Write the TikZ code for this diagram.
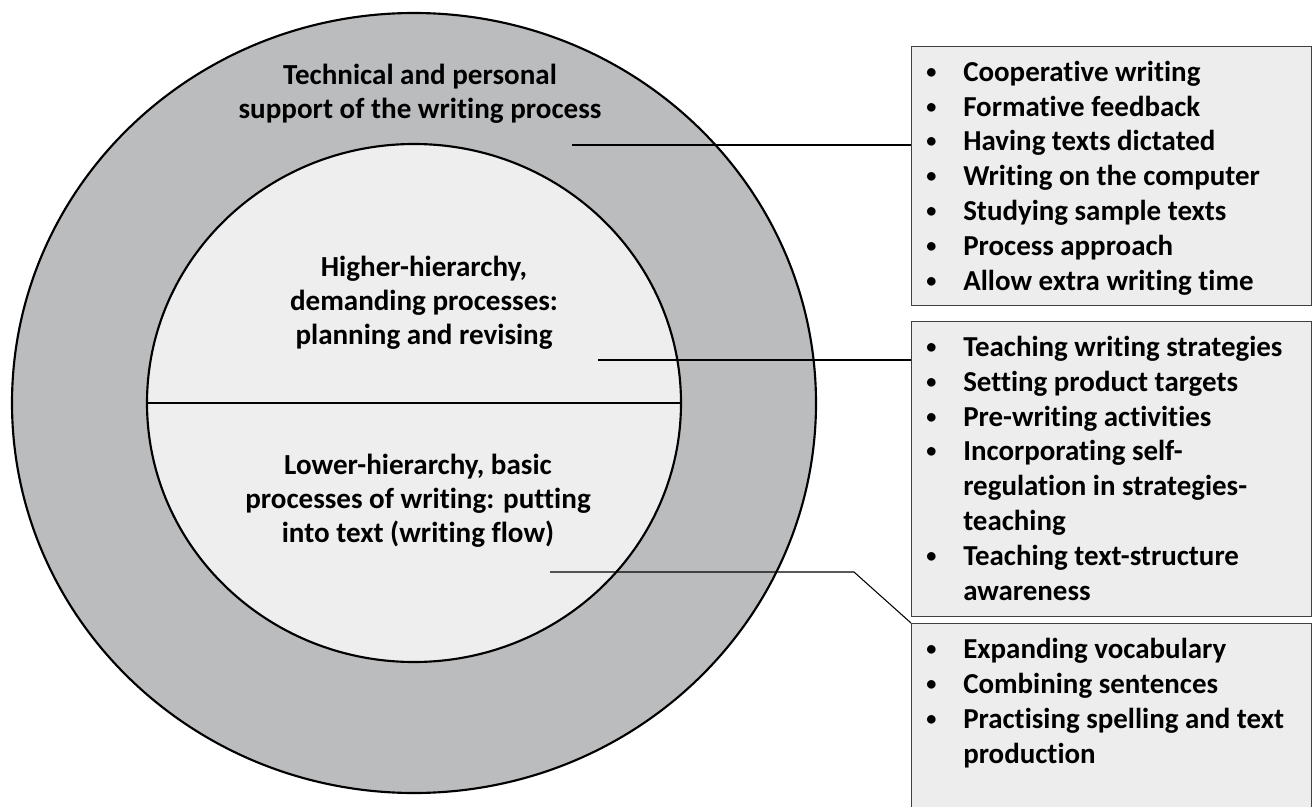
\documentclass[tikz,border=0pt]{standalone}
\usepackage{fontspec}
\setmainfont{Carlito}[Ligatures=NoCommon]
\usetikzlibrary{positioning}

\definecolor{ringgray}{RGB}{187,188,190}
\definecolor{coregray}{RGB}{238,238,238}
\definecolor{boxgray}{RGB}{237,237,237}
\definecolor{boxline}{RGB}{64,64,64}

% bullet and continuation indent for the lists
\newcommand{\bul}{\makebox[29.25pt][l]{\hspace{1.5pt}\raisebox{0.1em}{\scalebox{0.7}{\textbullet}}}}
\newcommand{\cont}{\hspace*{29.25pt}}

\begin{document}
\begin{tikzpicture}[
  x=0.75pt, y=-0.75pt,
  ring/.style={draw=black, line width=1.6pt},
  lbl/.style={font=\fontsize{21.8}{25.5}\selectfont\bfseries, align=center, inner sep=0pt},
  listbox/.style={draw=boxline, line width=1.1pt, fill=boxgray, anchor=north west,
    minimum width=300pt, inner sep=0pt},
  items/.style={font=\fontsize{21.7}{26.1}\selectfont\bfseries, align=left,
    anchor=base west, inner sep=0pt},
  link/.style={draw=black, line width=0.8pt}
]
  \useasboundingbox (0,0) rectangle (1312,806);

  % Rings
  \draw[ring, fill=ringgray] (414,403) ellipse [x radius=402, y radius=390];
  \draw[ring, fill=coregray] (414,403) ellipse [x radius=267, y radius=259];
  \draw[ring] (147,403) -- (681,403);

  % Ring labels
  \node[lbl] (support) at (420,93.5) {Technical and personal\\support of the writing process};
  \node[lbl] (higher) at (424,302.5) {Higher-hierarchy,\\demanding processes:\\planning and revising};
  \node[lbl] (lower) at (418,500.5) {Lower-hierarchy, basic\\processes of writing: putting\\into text (writing flow)};

  % Boxes
  \node[listbox, minimum height=194.25pt] (box1) at (911,46) {};
  \node[listbox, minimum height=221.25pt] (box2) at (911,321) {};
  \node[listbox, minimum height=142.5pt] (box3) at (911,623) {};

  % Lists (placed by the baseline of their last line)
  \node[items] (list1) at (924,290) {%
    \bul Cooperative writing\\
    \bul Formative feedback\\
    \bul Having texts dictated\\
    \bul Writing on the computer\\
    \bul Studying sample texts\\
    \bul Process approach\\
    \bul Allow extra writing time};
  \node[items] (list2) at (924,600) {%
    \bul Teaching writing strategies\\
    \bul Setting product targets\\
    \bul Pre-writing activities\\
    \bul Incorporating self-\\
    \cont regulation in strategies-\\
    \cont teaching\\
    \bul Teaching text-structure\\
    \cont awareness};
  \node[items] (list3) at (924,763) {%
    \bul Expanding vocabulary\\
    \bul Combining sentences\\
    \bul Practising spelling and text\\
    \cont production};

  % Connectors
  \coordinate (p1) at (572,145);
  \coordinate (p2) at (598,360);
  \coordinate (p3) at (550,572);
  \coordinate (k3) at (854,572);
  \draw[link] (p1) -- (p1 -| box1.west);
  \draw[link] (p2) -- (p2 -| box2.west);
  \draw[link] (p3) -- (k3) -- (box3.north west);
\end{tikzpicture}
\end{document}
